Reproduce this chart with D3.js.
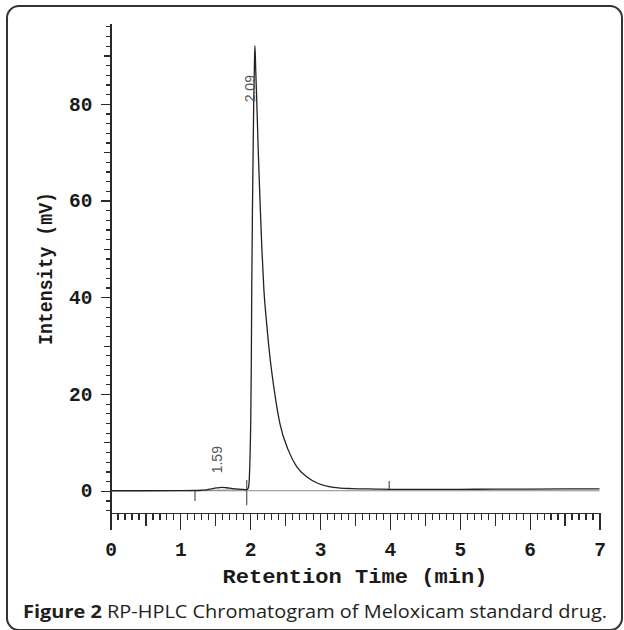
<!DOCTYPE html>
<html>
<head>
<meta charset="utf-8">
<script src="https://cdn.jsdelivr.net/npm/d3@7"></script>
<style>
  html, body { margin: 0; padding: 0; background: #fff; }
  svg { display: block; }
</style>
</head>
<body>
<svg id="chart" width="624" height="630"></svg>
<script>
// chromatogram trace (min, mV)
const timeMin = [
  0, 0.5, 1.0, 1.21, 1.3, 1.38, 1.45, 1.52, 1.59, 1.66, 1.73, 1.8, 1.87, 1.95,
  1.97, 1.981, 1.996, 2.008, 2.015, 2.022, 2.035, 2.05, 2.06, 2.067,
  2.08, 2.095, 2.115, 2.14, 2.167, 2.196, 2.235, 2.282, 2.344, 2.425, 2.545,
  2.665, 2.808, 2.974, 3.19, 3.45, 3.8, 4.0, 4.5, 5.0, 5.5, 6.0, 6.5, 7.0,
];
const intensityMv = [
  0, 0, 0.02, 0.05, 0.1, 0.2, 0.4, 0.58, 0.7, 0.62, 0.5, 0.38, 0.3, 0.22,
  0.5, 1.2, 6.3, 15, 25, 42, 62, 80, 88, 92,
  86.5, 80, 70.3, 60, 50, 41.5, 34.6, 27.7, 20.8, 13.9, 8.4,
  5.0, 2.9, 1.5, 0.7, 0.45, 0.35, 0.3, 0.3, 0.3, 0.32, 0.35, 0.38, 0.4,
];

// peak annotations
const peakNames = ['1.59', '2.09'];
const peakLabelTime = [1.6, 2.067];
const peakLabelLevel = [3.6, 80.3];

// integration event marks
const markerTimes = [1.21, 1.95, 3.99];
const markerFrom = [0, 2.2, 0.3];
const markerTo = [-2.1, -3.0, 2.0];

// integration baseline under the small peak
const baselineTimes = [1.21, 1.95];
const baselineLevels = [0.05, 0.2];

// axes
const xDomain = [0, 7];
const yDomain = [-4.6, 96.7];
const xMajorTicks = [0, 1, 2, 3, 4, 5, 6, 7];
const yMajorTicks = [0, 20, 40, 60, 80];

const xTitle = 'Retention Time (min)';
const yTitle = 'Intensity (mV)';
const captionBold = 'Figure 2';
const captionRest = ' RP-HPLC Chromatogram of Meloxicam standard drug.';

const svg = d3.select('#chart');
const monoFont = '"Liberation Mono", "DejaVu Sans Mono", monospace';
const axisColor = '#2a2a2a';

const x = d3.scaleLinear().domain(xDomain).range([110.5, 599.5]);
const y = d3.scaleLinear().domain(yDomain).range([513, 23]);

// rounded frame
svg
  .append('rect')
  .attr('x', 7)
  .attr('y', 6)
  .attr('width', 615)
  .attr('height', 624)
  .attr('rx', 12)
  .attr('fill', 'none')
  .attr('stroke', '#333')
  .attr('stroke-width', 2);

function styleAxis(g) {
  g.selectAll('path, line')
    .attr('stroke', axisColor)
    .attr('stroke-width', 1.2)
    .attr('shape-rendering', 'crispEdges');
  g.selectAll('text')
    .attr('fill', '#1a1a1a')
    .attr('font-family', monoFont)
    .attr('font-weight', 'bold')
    .attr('font-size', 19.5);
}

// y axis: minor every 2, medium every 10, major every 20
const yMinor = d3.range(-4, 97, 2).filter((v) => v % 10 !== 0);
const yMedium = d3.range(-10, 97, 10).filter((v) => v % 20 !== 0 && v >= yDomain[0]);

svg.append('g')
  .attr('transform', `translate(${x(0)},0)`)
  .call(d3.axisLeft(y).tickValues(yMinor).tickSize(4.5).tickFormat('').tickSizeOuter(0))
  .call(styleAxis);
svg.append('g')
  .attr('transform', `translate(${x(0)},0)`)
  .call(d3.axisLeft(y).tickValues(yMedium).tickSize(7).tickFormat('').tickSizeOuter(0))
  .call((g) => g.select('.domain').remove())
  .call(styleAxis);
svg.append('g')
  .attr('transform', `translate(${x(0)},0)`)
  .call(d3.axisLeft(y).tickValues(yMajorTicks).tickSize(10).tickPadding(8).tickSizeOuter(0))
  .call((g) => g.select('.domain').remove())
  .call(styleAxis);

// x axis: minor every 0.1, medium at halves, major at whole minutes
const xMinor = d3.range(1, 70).map((i) => i / 10).filter((v, i) => (i + 1) % 5 !== 0);
const xMedium = d3.range(0, 7).map((i) => i + 0.5);

svg.append('g')
  .attr('transform', `translate(0,${y(yDomain[0])})`)
  .call(d3.axisBottom(x).tickValues(xMinor).tickSize(7).tickFormat('').tickSizeOuter(0))
  .call(styleAxis);
svg.append('g')
  .attr('transform', `translate(0,${y(yDomain[0])})`)
  .call(d3.axisBottom(x).tickValues(xMedium).tickSize(13).tickFormat('').tickSizeOuter(0))
  .call((g) => g.select('.domain').remove())
  .call(styleAxis);
svg.append('g')
  .attr('transform', `translate(0,${y(yDomain[0])})`)
  .call(d3.axisBottom(x).tickValues(xMajorTicks).tickSize(17).tickPadding(12).tickFormat(d3.format('d')).tickSizeOuter(0))
  .call((g) => g.select('.domain').remove())
  .call(styleAxis);

// axis titles
svg.append('text')
  .attr('x', 222.5)
  .attr('y', 582.5)
  .attr('textLength', 265)
  .attr('lengthAdjust', 'spacingAndGlyphs')
  .attr('font-family', monoFont)
  .attr('font-weight', 'bold')
  .attr('font-size', 20)
  .attr('fill', '#1a1a1a')
  .text(xTitle);

svg.append('text')
  .attr('transform', 'translate(51.5,345) rotate(-90)')
  .attr('textLength', 153)
  .attr('lengthAdjust', 'spacingAndGlyphs')
  .attr('font-family', monoFont)
  .attr('font-weight', 'bold')
  .attr('font-size', 19.5)
  .attr('fill', '#1a1a1a')
  .text(yTitle);

// integration baseline + event marks
const trace = timeMin.map((t, i) => [t, intensityMv[i]]);
const line = d3.line().x((d) => x(d[0])).y((d) => y(d[1]));
const smoothLine = d3.line().curve(d3.curveMonotoneX).x((d) => x(d[0])).y((d) => y(d[1]));

svg.append('path')
  .datum(baselineTimes.map((t, i) => [t, baselineLevels[i]]))
  .attr('d', line)
  .attr('fill', 'none')
  .attr('stroke', '#9a9a9a')
  .attr('stroke-width', 1.2);

svg.append('g')
  .selectAll('line')
  .data(markerTimes)
  .join('line')
  .attr('x1', (t) => x(t))
  .attr('x2', (t) => x(t))
  .attr('y1', (t, i) => y(markerFrom[i]))
  .attr('y2', (t, i) => y(markerTo[i]))
  .attr('stroke', '#555')
  .attr('stroke-width', 1.2);

// zero line under the trace
svg.append('line')
  .attr('x1', x(xDomain[0]))
  .attr('x2', x(xDomain[1]))
  .attr('y1', y(0))
  .attr('y2', y(0))
  .attr('stroke', '#8a8a8a')
  .attr('stroke-width', 1);

svg.append('path')
  .datum(trace)
  .attr('d', smoothLine)
  .attr('fill', 'none')
  .attr('stroke', '#222')
  .attr('stroke-width', 1.3)
  .attr('stroke-linejoin', 'round');

// peak labels, rotated
svg.append('g')
  .selectAll('text')
  .data(peakNames)
  .join('text')
  .attr('transform', (d, i) => `translate(${x(peakLabelTime[i])},${y(peakLabelLevel[i])}) rotate(-90)`)
  .attr('font-family', '"Liberation Sans Narrow", "Liberation Sans", sans-serif')
  .attr('font-size', 14)
  .attr('fill', '#555')
  .text((d) => d);

// caption
const caption = svg.append('text')
  .attr('x', 23)
  .attr('y', 618)
  .attr('textLength', 584)
  .attr('lengthAdjust', 'spacingAndGlyphs')
  .attr('font-family', '"Open Sans", "Noto Sans", sans-serif')
  .attr('font-size', 18)
  .attr('fill', '#231f20');
caption.append('tspan').attr('font-weight', 'bold').text(captionBold);
caption.append('tspan').text(captionRest);
</script>
</body>
</html>
